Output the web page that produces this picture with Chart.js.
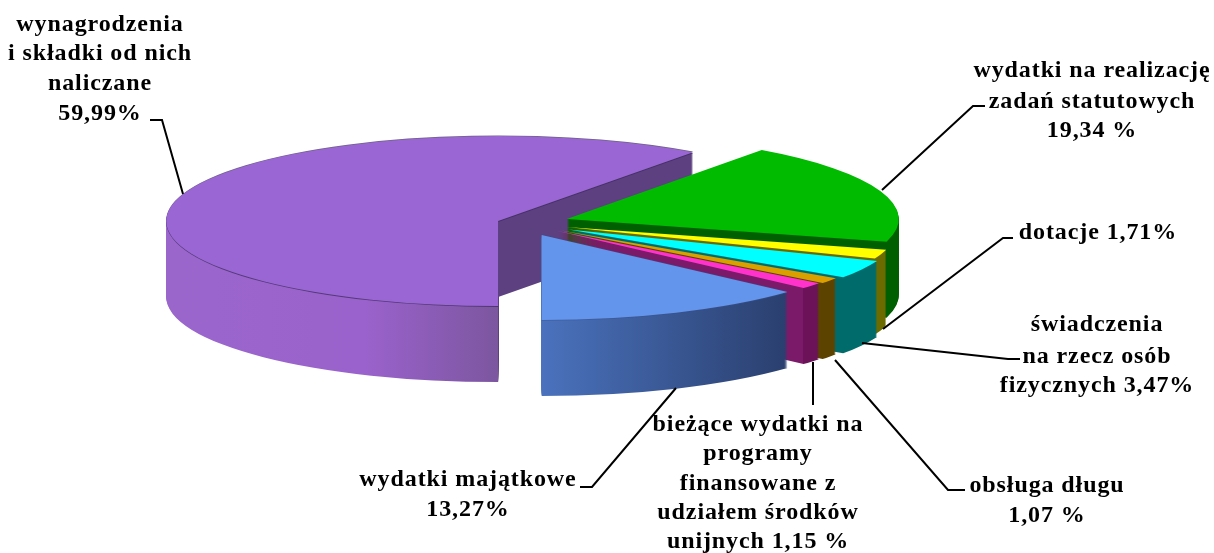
<!DOCTYPE html>
<html lang="pl"><head><meta charset="utf-8">
<style>html,body{margin:0;padding:0;background:#fff}#w{width:1214px;height:553px;position:relative}canvas{filter:blur(.35px)}</style>
<script src="https://cdn.jsdelivr.net/npm/chart.js@4/dist/chart.umd.min.js"></script>
</head><body><div id="w"><canvas id="c"></canvas></div>
<script>
const categories = ["wynagrodzenia i składki od nich naliczane","wydatki na realizację zadań statutowych","dotacje","świadczenia na rzecz osób fizycznych","obsługa długu","bieżące wydatki na programy finansowane z udziałem środków unijnych","wydatki majątkowe"];
const shares = [59.99,19.34,1.71,3.47,1.07,1.15,13.27];
const topColors = ["#9966d4","#00bb00","#ffff00","#00ffff","#d9a000","#ff33cc","#6495ed"];
// wall shading: [position across slice box 0..1, colour]
const wallStops = [
 [[0,"#9a66cc"],[0.3,"#9a62cc"],[0.5,"#7c569f"],[0.5,"#5d4080"],[1,"#5d4080"]],
 [[0,"#005f00"],[1,"#005f00"]],
 [[0,"#6b6b00"],[1,"#6b6b00"]],
 [[0,"#006b6b"],[1,"#006b6b"]],
 [[0,"#5c4300"],[1,"#5c4300"]],
 [[0,"#7a1a68"],[0.869,"#7a1a68"],[0.869,"#6b1258"],[1,"#6b1258"]],
 [[0.5,"#4a72bd"],[0.87,"#2a3f6e"],[1,"#2a3f6e"]]
];
const edgeColors = ["rgba(60,44,90,.75)",null,null,null,null,null,"rgba(60,80,130,.5)"];
const explode = [24,48.5,48,54,50,48,51];
const RADIUS = 332, TILT = 0.256, DEPTH = 76;
const labels = [
 {l:["wynagrodzenia","i składki od nich","naliczane","59,99%"],x:100,y:[24,53,83,113]},
 {l:["wydatki na realizację","zadań statutowych","19,34 %"],x:1092,y:[70,101,130]},
 {l:["dotacje 1,71%"],x:1098,y:[232]},
 {l:["świadczenia","na rzecz osób","fizycznych 3,47%"],x:1097,y:[324,356,385]},
 {l:["obsługa długu","1,07 %"],x:1047,y:[485,515]},
 {l:["bieżące wydatki na","programy","finansowane z","udziałem środków","unijnych 1,15 %"],x:758,y:[424,453,483,512,541]},
 {l:["wydatki majątkowe","13,27%"],x:468,y:[479,509]}
];
const leaders = [
 [[150,120],[162,120],[183,194]],
 [[985,106],[973,106],[882,190]],
 [[1013,238],[1003,238],[883,329]],
 [[1020,359],[1008,359],[862,343]],
 [[965,490],[948,490],[835,360]],
 [[813,405],[813,362]],
 [[580,487],[592,487],[676,388]]
];
const pie3d = {
 id:"pie3d",
 beforeDatasetsDraw(chart){
  const ctx = chart.ctx, arcs = chart.getDatasetMeta(0).data;
  arcs.forEach((arc,i)=>{
   const base = arc.options, mid=(arc.startAngle+arc.endAngle)/2;
   const place = dz=>{
    ctx.translate(arc.x,arc.y+dz);ctx.scale(1,TILT);ctx.translate(-arc.x,-arc.y);
    ctx.translate(Math.cos(mid)*explode[i],Math.sin(mid)*explode[i]);
   };
   const layer = (opts,dz)=>{arc.options={...base,borderWidth:0,...opts};ctx.save();place(dz);arc.draw(ctx);ctx.restore();};
   const g = ctx.createLinearGradient(arc.x-RADIUS,0,arc.x+RADIUS,0);
   wallStops[i].forEach(s=>g.addColorStop(s[0],s[1]));
   for(let dz=DEPTH;dz>0;dz--) layer({backgroundColor:g},dz);
   if(edgeColors[i]){
    layer({backgroundColor:edgeColors[i]},0.9);
    layer({backgroundColor:edgeColors[i]},-0.7);
   }
   layer({},0);
   arc.options = base;
  });
  return false;
 },
 afterDraw(chart){
  const ctx = chart.ctx;
  ctx.save();
  ctx.strokeStyle="#000";ctx.lineWidth=2;ctx.lineJoin="miter";
  leaders.forEach(p=>{ctx.beginPath();p.forEach((q,i)=>i?ctx.lineTo(q[0],q[1]):ctx.moveTo(q[0],q[1]));ctx.stroke();});
  ctx.fillStyle="#000";ctx.font='bold 24px "Liberation Serif"';ctx.textAlign="center";ctx.textBaseline="middle";
  if("letterSpacing" in ctx)ctx.letterSpacing="0.9px";
  labels.forEach(b=>b.l.forEach((t,i)=>ctx.fillText(t,b.x,b.y[i]+1)));
  ctx.restore();
 }
};
new Chart(document.getElementById("c"),{
 type:"pie",
 data:{labels:categories,datasets:[{data:shares,backgroundColor:topColors,borderWidth:0,radius:RADIUS}]},
 options:{responsive:true,maintainAspectRatio:false,animation:false,rotation:180,
  layout:{padding:{right:172,bottom:107}},
  plugins:{legend:{display:false},tooltip:{enabled:false}}},
 plugins:[pie3d]
});
</script></body></html>
